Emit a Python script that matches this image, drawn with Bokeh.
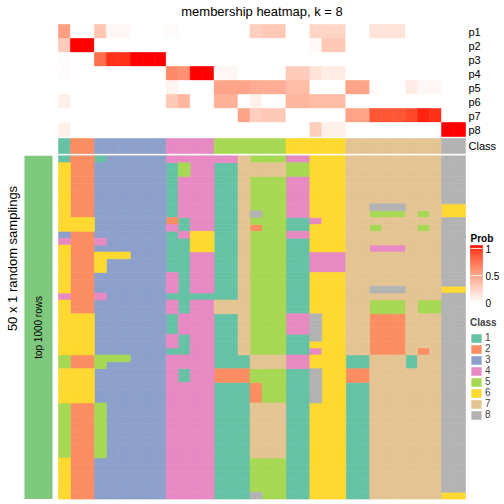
import math
from bokeh.plotting import figure
from bokeh.models import Range1d, ColumnDataSource, Legend, LegendItem
from bokeh.embed import file_html
from bokeh.resources import INLINE
from bokeh.core.properties import value

# ---------------- data ----------------
TITLE = "membership heatmap, k = 8"
ROW_TITLE = "50 x 1 random samplings"
STRIP_LABEL = "top 1000 rows"
prob_names = ["p1", "p2", "p3", "p4", "p5", "p6", "p7", "p8"]
class_names = ["1", "2", "3", "4", "5", "6", "7", "8"]
class_colors = ["#66C2A5", "#FC8D62", "#8DA0CB", "#E78AC3",
                "#A6D854", "#FFD92F", "#E5C494", "#B3B3B3"]
strip_color = "#7FC97F"
prob_breaks = [0, 0.5, 1]
prob_break_labels = ["0", "0.5", "1"]

# class of each of the 34 columns
column_class = "1 22 333333 4444 555555 66666 77777777 88"

# membership probabilities per column
p1 = [0.50, 0, 0, 0.30, 0.04, 0.04, 0, 0, 0, 0.02, 0, 0, 0, 0, 0, 0, 0.25, 0.28, 0.28,
      0, 0, 0.22, 0.22, 0.22, 0, 0, 0.15, 0.15, 0.15, 0, 0, 0, 0, 0]
p2 = [0.27, 1, 1, 0, 0, 0, 0, 0, 0, 0, 0, 0, 0, 0, 0, 0, 0, 0, 0,
      0, 0, 0.03, 0.28, 0.28, 0, 0, 0, 0, 0, 0, 0, 0, 0, 0]
p3 = [0.02, 0, 0, 0.72, 0.93, 0.93, 1, 1, 1, 0, 0, 0, 0, 0, 0, 0, 0, 0, 0,
      0, 0, 0, 0, 0, 0, 0, 0, 0, 0, 0, 0, 0, 0, 0]
p4 = [0.02, 0, 0, 0, 0, 0, 0, 0, 0, 0.60, 0.57, 1, 1, 0.04, 0.04, 0, 0, 0, 0,
      0.27, 0.27, 0.15, 0.10, 0.10, 0, 0, 0, 0, 0, 0, 0, 0, 0, 0]
p5 = [0, 0, 0, 0, 0, 0, 0, 0, 0, 0.06, 0, 0, 0, 0.47, 0.47, 0.47, 0.43, 0.42, 0.42,
      0.35, 0.35, 0, 0, 0, 0.47, 0.47, 0.02, 0, 0, 0.10, 0.04, 0.04, 0, 0]
p6 = [0.08, 0, 0, 0, 0, 0, 0, 0, 0, 0.28, 0.38, 0, 0, 0.40, 0.40, 0, 0.07, 0, 0,
      0.38, 0.38, 0.35, 0.35, 0.35, 0, 0, 0, 0, 0, 0, 0, 0, 0, 0]
p7 = [0, 0, 0, 0, 0, 0, 0, 0, 0, 0, 0, 0, 0, 0, 0, 0.47, 0.25, 0.28, 0.28,
      0, 0, 0, 0, 0, 0.47, 0.47, 0.82, 0.82, 0.82, 0.86, 0.96, 0.93, 0, 0]
p8 = [0.08, 0, 0, 0, 0, 0, 0, 0, 0, 0, 0, 0, 0, 0, 0, 0, 0, 0, 0,
      0, 0, 0.26, 0.08, 0.08, 0, 0, 0, 0, 0, 0, 0, 0, 1, 1]
probs = [p1, p2, p3, p4, p5, p6, p7, p8]

# 50 random samplings x 34 columns, class label per cell
samplings = [
    "1 22 133333 4444 447555 44666 77777777 88",
    "6 22 333333 1544 117777 55666 77777777 88",
    "6 22 333333 1544 117777 55666 77777777 88",
    "6 22 333333 1444 117555 44666 77777777 88",
    "6 22 333333 1444 117555 44666 77777777 88",
    "6 22 333333 1444 117555 44666 77777777 88",
    "6 22 333333 1444 117555 44666 77777777 88",
    "6 22 333333 1444 117555 44666 77888777 66",
    "6 22 333333 1444 117855 44666 77555757 66",
    "6 66 333333 2144 117555 11466 77777777 88",
    "6 66 333333 4144 117255 11666 77577757 88",
    "3 22 333333 1466 117555 44666 77777777 88",
    "4 22 433333 1166 117555 11666 77777777 88",
    "6 22 333333 1166 117555 11666 77444777 88",
    "6 22 666333 1144 117555 11444 77777777 88",
    "6 22 633333 1144 117555 11444 77777777 88",
    "6 22 633333 1144 117555 11444 77777777 88",
    "6 22 333333 4144 117555 11666 77777777 88",
    "6 22 333333 4144 117555 11666 77777777 88",
    "6 22 333333 4144 117555 11666 77888777 66",
    "4 22 433333 1111 117555 11666 77777777 88",
    "6 22 333333 4144 777555 11666 77555755 88",
    "6 22 333333 4144 777555 11666 77555755 88",
    "6 66 333333 1444 117555 44866 77222777 88",
    "6 66 333333 1444 117555 44866 77222777 88",
    "6 66 333333 1444 117555 44866 77222777 88",
    "6 66 333333 4144 117555 11866 77222777 88",
    "6 66 333333 4144 117555 11666 77222777 88",
    "6 66 333333 1144 117555 11466 77222727 88",
    "5 22 555333 4444 111777 44666 11777177 88",
    "5 22 533333 4444 111777 44666 11777177 88",
    "6 66 333333 4144 222555 11866 22777777 88",
    "6 66 333333 4144 222555 11866 22777777 88",
    "6 66 333333 4444 111255 11866 11777777 88",
    "6 66 333333 4444 111255 11866 11777777 88",
    "6 66 333333 4444 111255 11866 11777777 88",
    "5 22 533333 4444 111777 11666 11777777 88",
    "5 22 533333 4444 111777 11666 11777777 88",
    "5 22 533333 4444 111777 11666 11777777 88",
    "5 22 533333 4444 111777 11666 11777777 88",
    "5 22 533333 4444 111777 11666 11777777 88",
    "5 22 533333 4444 111777 11666 11777777 88",
    "5 22 533333 4444 111777 11666 11777777 88",
    "5 22 533333 4444 111777 11666 11777777 88",
    "6 22 333333 4444 111555 11666 11777777 88",
    "6 22 333333 4444 111555 11666 11777777 88",
    "6 22 333333 4444 111555 11666 11777777 88",
    "6 22 333333 4444 111555 11666 11777777 88",
    "6 22 333333 4444 111555 11666 11777777 88",
    "6 22 333333 4444 111855 11666 11777777 66",
]

# ---------------- colour helpers (white -> red in Lab) ----------------
def _lin(c):
    c = c / 255.0
    return c / 12.92 if c <= 0.04045 else ((c + 0.055) / 1.055) ** 2.4

def _gam(c):
    c = max(0.0, min(1.0, c))
    v = 12.92 * c if c <= 0.0031308 else 1.055 * c ** (1 / 2.4) - 0.055
    return int(round(max(0.0, min(1.0, v)) * 255))

XN, YN, ZN = 0.95047, 1.0, 1.08883

def rgb2lab(rgb):
    R, G, B = (_lin(v) for v in rgb)
    X = 0.4124 * R + 0.3576 * G + 0.1805 * B
    Y = 0.2126 * R + 0.7152 * G + 0.0722 * B
    Z = 0.0193 * R + 0.1192 * G + 0.9505 * B
    f = lambda t: t ** (1 / 3) if t > 0.008856 else 7.787 * t + 16 / 116
    fx, fy, fz = f(X / XN), f(Y / YN), f(Z / ZN)
    return 116 * fy - 16, 500 * (fx - fy), 200 * (fy - fz)

def lab2hex(L, a, b):
    fy = (L + 16) / 116
    fx = fy + a / 500
    fz = fy - b / 200
    finv = lambda t: t ** 3 if t ** 3 > 0.008856 else (t - 16 / 116) / 7.787
    X, Y, Z = XN * finv(fx), YN * finv(fy), ZN * finv(fz)
    R = 3.2406 * X - 1.5372 * Y - 0.4986 * Z
    G = -0.9689 * X + 1.8758 * Y + 0.0415 * Z
    B = 0.0557 * X - 0.2040 * Y + 1.0570 * Z
    return "#%02X%02X%02X" % (_gam(R), _gam(G), _gam(B))

LAB_LO = rgb2lab((255, 255, 255))
LAB_HI = rgb2lab((255, 0, 0))

def prob_color(t):
    t = max(0.0, min(1.0, t))
    return lab2hex(*[lo + (hi - lo) * t for lo, hi in zip(LAB_LO, LAB_HI)])

# ---------------- layout (pixels inside the figure) ----------------
W, H = 504, 504
ncol = len(p1)
nrow = len(samplings)
HM_LEFT, HM_RIGHT = 58.0, 465.0
CW = (HM_RIGHT - HM_LEFT) / ncol
MAIN_TOP, MAIN_BOT = 155.3, 498.6
RH = (MAIN_BOT - MAIN_TOP) / nrow
ANNO_TOP, AH = 24.0, 14.0
FONT_NAME = "Liberation Sans"
FONT = value(FONT_NAME)

p = figure(width=W, height=H, output_backend="svg", toolbar_location=None,
           x_range=Range1d(-HM_LEFT / CW, (W - HM_LEFT) / CW),
           y_range=Range1d((H - MAIN_TOP) / RH, -MAIN_TOP / RH),
           x_axis_location=None, y_axis_location=None, min_border=0,
           outline_line_color=None, background_fill_color="white",
           border_fill_color="white")
p.grid.visible = False
p.extra_y_ranges = {"anno": Range1d((H - ANNO_TOP) / AH, -ANNO_TOP / AH),
                    "px": Range1d(H, 0)}
p.extra_x_ranges = {"px": Range1d(0, W)}

# membership probability rows
L, R, T, B, C = [], [], [], [], []
for j, row in enumerate(probs):
    for i, v in enumerate(row):
        L.append(i); R.append(i + 1); T.append(j); B.append(j + 1)
        C.append(prob_color(v))
p.quad(left="left", right="right", top="top", bottom="bottom", fill_color="color",
       line_color="color", line_width=0.6, y_range_name="anno",
       source=ColumnDataSource(dict(left=L, right=R, top=T, bottom=B, color=C)))

# class annotation row
col_cls = [int(ch) for ch in column_class.replace(" ", "")]
CLS_TOP = len(probs) + 2.0 / AH
CLS_BOT = CLS_TOP + 15.0 / AH
p.quad(left=list(range(ncol)), right=[i + 1 for i in range(ncol)],
       top=[CLS_TOP] * ncol, bottom=[CLS_BOT] * ncol,
       fill_color=[class_colors[c - 1] for c in col_cls],
       line_color=[class_colors[c - 1] for c in col_cls], line_width=0.6,
       y_range_name="anno")

# main heatmap, one renderer per class (for the legend)
grid = [[int(ch) for ch in s.replace(" ", "")] for s in samplings]
renderers = []
for k in range(len(class_names)):
    L, R, T, B = [], [], [], []
    for r, row in enumerate(grid):
        for i, c in enumerate(row):
            if c == k + 1:
                L.append(i); R.append(i + 1); T.append(r); B.append(r + 1)
    rr = p.quad(left=L, right=R, top=T, bottom=B, fill_color=class_colors[k],
                line_color=class_colors[k], line_width=0.6)
    renderers.append(rr)

# left strip
S_L, S_R = (24 - HM_LEFT) / CW, (52 - HM_LEFT) / CW
p.quad(left=[S_L], right=[S_R], top=[0], bottom=[nrow], fill_color=strip_color,
       line_color=None)
p.text(x=[(S_L + S_R) / 2], y=[nrow / 2], text=[STRIP_LABEL], angle=math.pi / 2,
       text_align="center", text_baseline="middle", text_font=FONT,
       text_font_size="10px", text_color="black")
p.text(x=[(12 - HM_LEFT) / CW], y=[(258 - MAIN_TOP) / RH], text=[ROW_TITLE],
       angle=math.pi / 2, text_align="center", text_baseline="middle",
       text_font=FONT, text_font_size="13px", text_color="black")

# title
p.text(x=[ncol / 2], y=[(11 - ANNO_TOP) / AH], text=[TITLE], y_range_name="anno",
       text_align="center", text_baseline="middle", text_font=FONT,
       text_font_size="13px", text_color="black")

# row labels
lab_x = ncol + 3.0 / CW
p.text(x=[lab_x] * (len(prob_names) + 1),
       y=[j + 0.5 for j in range(len(prob_names))] + [(CLS_TOP + CLS_BOT) / 2],
       text=prob_names + ["Class"], y_range_name="anno", text_align="left",
       text_baseline="middle", text_font=FONT, text_font_size="11px",
       text_color="black")

# Prob colour legend (drawn in a pixel-unit range)
CB_L, CB_R, CB_T, CB_B = 470.0, 482.0, 245.0, 302.0
NSTEP = 57
steps = [s / NSTEP for s in range(NSTEP)]
p.quad(left=[CB_L] * NSTEP, right=[CB_R] * NSTEP,
       bottom=[CB_B - s * (CB_B - CB_T) for s in steps],
       top=[CB_B - (s + 1.0 / NSTEP) * (CB_B - CB_T) for s in steps],
       fill_color=[prob_color(s + 0.5 / NSTEP) for s in steps],
       line_color=[prob_color(s + 0.5 / NSTEP) for s in steps], line_width=0.6,
       x_range_name="px", y_range_name="px")
lab_pos = [CB_T + 3 + (1 - v) * (CB_B - CB_T - 3) for v in prob_breaks]
p.segment(x0=[CB_L] * 2, x1=[CB_R] * 2, y0=lab_pos[1:], y1=lab_pos[1:],
          line_color="white", line_width=1, line_alpha=0.8,
          x_range_name="px", y_range_name="px")
p.text(x=[CB_R + 3] * len(prob_breaks), y=lab_pos, text=prob_break_labels,
       text_align="left", text_baseline="middle", text_font=FONT,
       text_font_size="10px", text_color="black",
       x_range_name="px", y_range_name="px")
p.text(x=[CB_L], y=[CB_T - 7], text=["Prob"], text_align="left",
       text_baseline="middle", text_font=FONT, text_font_size="10px",
       text_font_style="bold", text_color="black",
       x_range_name="px", y_range_name="px")

# Class legend
legend = Legend(items=[LegendItem(label=class_names[k], renderers=[renderers[k]])
                       for k in range(len(class_names))],
                title="Class", location=(470, 84), orientation="vertical",
                glyph_width=12, glyph_height=10, label_height=10, spacing=0,
                padding=0, margin=0, label_standoff=3,
                label_text_font=FONT_NAME, label_text_font_size="10px",
                title_text_font=FONT_NAME, title_text_font_size="10px",
                title_text_font_style="bold", title_standoff=4,
                border_line_color=None, background_fill_alpha=0)
p.add_layout(legend)

open("out.html", "w").write(file_html(p, INLINE))
